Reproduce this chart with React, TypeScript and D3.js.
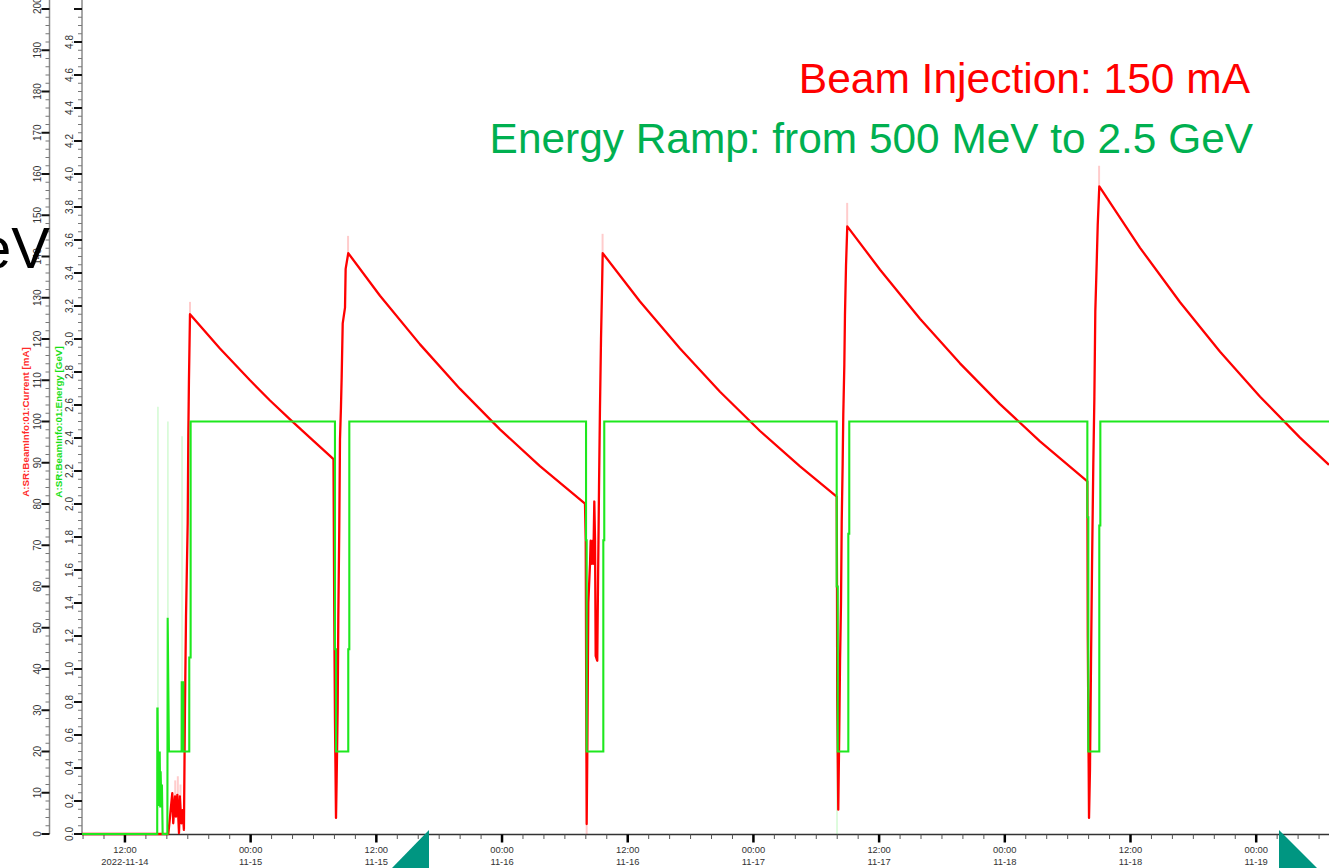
import React, { useEffect } from "react";
import * as d3 from "d3";

// hours after 2022-11-14 00:00 -> beam current [mA]
const currentData: [number, number][] = [
  [7.9, 0], [16.14, 0], [16.3, 4.1], [16.52, 9.9], [16.61, 2.6], [16.78, 9.1], [16.87, 4.2],
  [17.0, 9.5], [17.16, 0.2], [17.25, 9.1], [17.38, 2.6], [17.51, 5.8], [17.63, 1.0],
  [17.73, 30.5], [17.83, 52.7], [17.99, 75.4], [18.05, 96.4], [18.11, 110.0], [18.21, 126.0],
  [21.07, 117.7], [23.94, 110.0], [25.85, 105.1], [27.76, 100.5], [29.66, 96.1], [31.91, 90.9],
  [31.98, 55.0], [32.05, 28.0], [32.15, 3.9], [32.21, 12.9], [32.31, 30.7], [32.37, 52.4],
  [32.46, 74.0], [32.53, 95.6], [32.62, 103.2], [32.69, 110.7], [32.79, 123.8], [33.01, 127.6],
  [33.07, 137.0], [33.32, 140.8],
  [36.35, 130.5], [40.17, 118.7], [43.99, 107.9], [47.8, 98.1], [51.62, 89.2], [55.92, 80.1],
  [55.99, 71.1], [56.08, 2.4], [56.14, 19.4], [56.24, 56.1], [56.4, 65.5], [56.46, 71.1],
  [56.56, 65.5], [56.66, 71.1], [56.71, 65.5], [56.81, 80.6], [56.88, 71.1], [56.94, 43.2],
  [57.09, 42.0], [57.13, 52.4], [57.26, 84.2], [57.35, 103.2], [57.45, 120.0], [57.54, 131.3],
  [57.61, 140.8],
  [61.17, 129.1], [64.99, 117.7], [68.81, 107.2], [72.63, 97.7], [76.45, 89.1], [79.95, 81.8],
  [79.98, 59.9], [80.0, 32.9], [80.1, 5.9], [80.2, 26.0], [80.27, 41.9], [80.36, 55.8],
  [80.43, 75.8], [80.52, 89.8], [80.58, 101.8], [80.68, 113.8], [80.74, 125.8], [80.84, 137.8],
  [80.96, 147.3],
  [84.09, 136.8], [87.9, 124.9], [91.72, 114.1], [95.54, 104.2], [99.36, 95.2], [103.88, 85.5],
  [103.92, 48.0], [104.04, 3.9], [104.13, 15.5], [104.23, 41.7], [104.33, 65.8], [104.45, 90.0],
  [104.55, 105.7], [104.64, 126.7], [104.77, 138.2], [104.87, 147.6], [105.02, 157.0],
  [108.91, 142.1], [112.73, 128.9], [116.55, 116.9], [120.37, 106.0], [124.18, 96.1], [126.95, 89.5],
];

// hours after 2022-11-14 00:00 -> beam energy [GeV]
const energyData: [number, number][] = [
  [7.9, 0], [15.08, 0], [15.09, 0.76], [15.12, 0.76], [15.18, 0.17], [15.22, 0.45], [15.28, 0.2],
  [15.32, 0.5], [15.37, 0.16], [15.41, 0.38], [15.47, 0.18], [15.53, 0.3], [15.6, 0], [16.05, 0],
  [16.08, 1.31], [16.2, 0.5], [17.41, 0.5], [17.42, 0.92], [17.57, 0.92], [17.58, 0.5],
  [18.14, 0.5], [18.14, 1.07], [18.27, 1.07], [18.27, 2.5],
  [32.05, 2.5], [32.05, 1.12], [32.15, 1.12], [32.15, 0.5], [33.32, 0.5], [33.32, 1.12], [33.42, 1.12], [33.42, 2.5],
  [56.02, 2.5], [56.02, 1.78], [56.08, 1.78], [56.08, 0.5], [57.67, 0.5], [57.67, 1.78], [57.76, 1.78], [57.76, 2.5],
  [79.95, 2.5], [79.95, 1.5], [80.05, 1.5], [80.05, 0.5], [81.06, 0.5], [81.06, 1.82], [81.15, 1.82], [81.15, 2.5],
  [103.88, 2.5], [103.88, 1.92], [103.97, 1.92], [103.97, 0.5], [105.02, 0.5], [105.02, 1.87], [105.12, 1.87], [105.12, 2.5],
  [126.95, 2.5],
];

// short-lived excursions that show up only faintly: [hour, low, high]
const currentGhosts: [number, number, number][] = [
  [18.21, 126, 129], [33.3, 140.8, 145], [57.6, 140.8, 145.5], [80.95, 147.3, 153],
  [105.0, 157, 162], [56.08, 0, 2.4], [16.8, 9, 13], [17.05, 9, 14], [17.3, 9, 12],
];
const energyGhosts: [number, number, number][] = [
  [15.15, 0.76, 2.59], [16.1, 1.31, 2.5], [17.45, 0.92, 2.41], [79.98, 0, 0.5],
];

const titleLines = ["Beam Injection: 150 mA", "Energy Ramp: from 500 MeV to 2.5 GeV"];
const currentLabel = "A:SR:BeamInfo:01:Current [mA]";
const energyLabel = "A:SR:BeamInfo:01:Energy [GeV]";

const W = 1329;
const H = 868;
const FONT = "'Liberation Sans', Arial, sans-serif";
const RED = "#ff0000";
const GREEN = "#1ee81e";
const LABEL = "#333";

const BASE = new Date(2022, 10, 14, 0, 0).getTime();
const toDate = (h: number) => new Date(BASE + h * 3600000);

export default function App() {
  useEffect(() => {
    document.body.style.margin = "0";
  }, []);

  const x = d3.scaleTime().domain([toDate(7.9), toDate(126.95)]).range([82, 1329]);
  const yI = d3.scaleLinear().domain([0, 200]).range([834, 9]);
  const yE = d3.scaleLinear().domain([0, 5]).range([834, 9]);

  const currentLine = d3
    .line<[number, number]>()
    .x((d) => x(toDate(d[0])))
    .y((d) => yI(d[1]));
  const energyLine = d3
    .line<[number, number]>()
    .x((d) => x(toDate(d[0])))
    .y((d) => yE(d[1]));

  const minorTimes = x.ticks(d3.timeHour.every(2)!);
  const majorTimes = minorTimes.filter((d) => d.getHours() % 12 === 0);
  const fmtHM = d3.timeFormat("%H:%M");
  const fmtMD = d3.timeFormat("%m-%d");
  const fmtYMD = d3.timeFormat("%Y-%m-%d");

  const iMajor = d3.range(0, 201, 10);
  const iMinor = d3.range(0, 201, 2).filter((v) => v % 10 !== 0);
  const eMajor = d3.range(0, 26).map((i) => i * 0.2);
  const eMinor = d3.range(0, 101).map((i) => i * 0.05).filter((_, i) => i % 4 !== 0);

  return (
    <div style={{ position: "fixed", left: 0, top: 0, width: W, height: H, background: "#fff" }}>
      <svg width={W} height={H} style={{ display: "block" }}>
        <defs>
          <clipPath id="plotClip">
            <rect x={82} y={0} width={W - 82} height={840} />
          </clipPath>
        </defs>

        {/* current axis */}
        <line x1={49.5} x2={49.5} y1={0} y2={834} stroke="#8a8a8a" strokeWidth={1.5} />
        {iMinor.map((v) => (
          <line key={"im" + v} x1={45.5} x2={49.5} y1={yI(v)} y2={yI(v)} stroke="#777" strokeWidth={1} />
        ))}
        {iMajor.map((v) => (
          <line key={"iM" + v} x1={41.5} x2={49.5} y1={yI(v)} y2={yI(v)} stroke="#111" strokeWidth={2} />
        ))}
        {iMajor.map((v) => (
          <text
            key={"il" + v}
            transform={v === 200 ? `translate(37,14) rotate(-90)` : `translate(37,${yI(v)}) rotate(-90)`}
            textAnchor={v === 200 ? "start" : "middle"}
            dominantBaseline="central"
            fontFamily={FONT}
            fontSize={10}
            fill={LABEL}
          >
            {v}
          </text>
        ))}
        <text
          transform="translate(25,422) rotate(-90)"
          textAnchor="middle"
          dominantBaseline="central"
          fontFamily={FONT}
          fontWeight="bold"
          fontSize={9.8}
          fill="#ff2a2a"
        >
          {currentLabel}
        </text>

        {/* energy axis */}
        <line x1={82} x2={82} y1={0} y2={834} stroke="#8a8a8a" strokeWidth={1.5} />
        {eMinor.map((v, i) => (
          <line key={"em" + i} x1={78} x2={82} y1={yE(v)} y2={yE(v)} stroke="#777" strokeWidth={1} />
        ))}
        {eMajor.map((v, i) => (
          <line key={"eM" + i} x1={74} x2={82} y1={yE(v)} y2={yE(v)} stroke="#111" strokeWidth={2} />
        ))}
        {eMajor
          .filter((v) => v < 4.95)
          .map((v, i) => (
            <text
              key={"el" + i}
              transform={`translate(69.5,${yE(v)}) rotate(-90)`}
              textAnchor="middle"
              dominantBaseline="central"
              fontFamily={FONT}
              fontSize={10}
              fill={LABEL}
            >
              {v.toFixed(1)}
            </text>
          ))}
        <text
          transform="translate(58,422) rotate(-90)"
          textAnchor="middle"
          dominantBaseline="central"
          fontFamily={FONT}
          fontWeight="bold"
          fontSize={9.8}
          fill="#16e016"
        >
          {energyLabel}
        </text>

        {/* time axis */}
        <line x1={82} x2={W} y1={834.5} y2={834.5} stroke="#333" strokeWidth={1.5} />
        {minorTimes.map((d, i) => (
          <line key={"xm" + i} x1={x(d)} x2={x(d)} y1={834.5} y2={839} stroke="#555" strokeWidth={1} />
        ))}
        {majorTimes.map((d, i) => (
          <line key={"xM" + i} x1={x(d)} x2={x(d)} y1={834.5} y2={842.5} stroke="#000" strokeWidth={2.5} />
        ))}
        {majorTimes.map((d, i) => (
          <g key={"xl" + i} fontFamily={FONT} fontSize={9.4} fill={LABEL} textAnchor="middle">
            <text x={x(d)} y={853}>{fmtHM(d)}</text>
            <text x={x(d)} y={865}>{i === 0 ? fmtYMD(d) : fmtMD(d)}</text>
          </g>
        ))}

        {/* series */}
        <g clipPath="url(#plotClip)">
          {currentGhosts.map((g, i) => (
            <line
              key={"cg" + i}
              x1={x(toDate(g[0]))}
              x2={x(toDate(g[0]))}
              y1={yI(g[1])}
              y2={yI(g[2])}
              stroke={RED}
              strokeOpacity={0.2}
              strokeWidth={2}
            />
          ))}
          {energyGhosts.map((g, i) => (
            <line
              key={"eg" + i}
              x1={x(toDate(g[0]))}
              x2={x(toDate(g[0]))}
              y1={yE(g[1])}
              y2={yE(g[2])}
              stroke={GREEN}
              strokeOpacity={0.2}
              strokeWidth={1.5}
            />
          ))}
          <path d={currentLine(currentData) || ""} fill="none" stroke={RED} strokeWidth={2.3} strokeLinejoin="round" />
          <path d={energyLine(energyData) || ""} fill="none" stroke={GREEN} strokeWidth={2.1} strokeLinejoin="miter" />
        </g>

        {/* slide overlays */}
        <text x={1250} y={93} textAnchor="end" fontFamily={FONT} fontSize={42.5} fill="#ff0000">
          {titleLines[0]}
        </text>
        <text x={1253} y={153} textAnchor="end" fontFamily={FONT} fontSize={42.4} fill="#00b050">
          {titleLines[1]}
        </text>
        <text x={50} y={268} textAnchor="end" fontFamily={FONT} fontSize={58} fill="#000">
          eV
        </text>
        <polygon points="392,868 429,830 429,868" fill="#009681" />
        <polygon points="1279,830 1279,868 1317,868" fill="#009681" />
      </svg>
    </div>
  );
}
